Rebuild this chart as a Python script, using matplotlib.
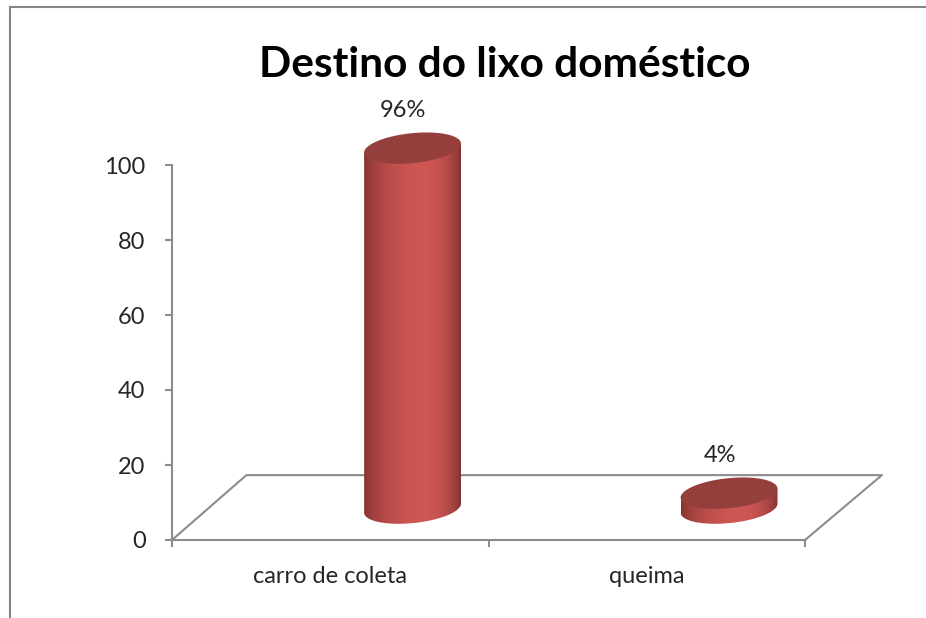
import numpy as np
import matplotlib
matplotlib.use("Agg")
import matplotlib.pyplot as plt
from matplotlib.path import Path
from matplotlib.patches import PathPatch, Polygon
from matplotlib.lines import Line2D

# ---- data ----
categories = ["carro de coleta", "queima"]
values = [96, 4]
value_labels = ["96%", "4%"]
title = "Destino do lixo doméstico"
yticks = [0, 20, 40, 60, 80, 100]

# ---- style ----
W, H = 926, 618
FONT = ["Lato", "DejaVu Sans"]
TXT = "#262626"
AXCOL = "#8c8c8c"
depth_dx, depth_dy = 0.235, 17.3      # floor depth in data units
cyl_dx, base = 0.26, 8.5              # cylinder offset into depth
r, b, shear = 0.153, 4.0, 1.2         # cylinder radius / ellipse half-height / tilt

fig = plt.figure(figsize=(W / 100, H / 100), dpi=100)
ax = fig.add_axes([172 / W, (H - 540) / H, 633 / W, 375 / H])
ax.set_xlim(-0.5, len(categories) - 0.5)
ax.set_ylim(0, 100)

for s in ["top", "right"]:
    ax.spines[s].set_visible(False)
for s in ["left", "bottom"]:
    ax.spines[s].set_color(AXCOL)
    ax.spines[s].set_linewidth(1.5)

ax.set_yticks(yticks)
ax.set_yticklabels([str(t) for t in yticks], fontsize=17, family=FONT, color=TXT)
ax.tick_params(axis="y", direction="out", length=5, width=1.5, color=AXCOL, pad=14)
ax.set_xticks(range(len(categories)))
ax.set_xticklabels(categories, fontsize=17, family=FONT, color=TXT)
ax.tick_params(axis="x", which="major", length=0, pad=19)
ax.set_xticks([i - 0.5 for i in range(len(categories) + 1)], minor=True)
ax.tick_params(axis="x", which="minor", direction="out", length=5, width=1.5, color=AXCOL)

# floor (3D base)
x0, x1 = -0.5, len(categories) - 0.5
floor_pts = [(x0, 0), (x0 + depth_dx, depth_dy), (x1 + depth_dx + 0.008, depth_dy), (x1, 0)]
ax.add_line(Line2D([p[0] for p in floor_pts], [p[1] for p in floor_pts],
                   color=AXCOL, lw=1.5, clip_on=False, zorder=1))

# cylinders
def shade(n=200):
    t = np.linspace(0, 1, n)
    dark_l = np.array([0.52, 0.20, 0.19])
    dark_r = np.array([0.48, 0.18, 0.17])
    light = np.array([0.81, 0.34, 0.33])
    out = np.zeros((1, n, 3))
    for i, v in enumerate(t):
        if v < 0.62:
            f = np.sin(v / 0.62 * np.pi / 2) ** 0.7
            c = dark_l + (light - dark_l) * f
        else:
            f = np.cos((v - 0.62) / 0.38 * np.pi / 2) ** 0.6
            c = dark_r + (light - dark_r) * f
        out[0, i] = c
    return out

grad = shade()
th = np.linspace(0, 2 * np.pi, 200)
for i, v in enumerate(values):
    xc = i + cyl_dx
    top = base + v
    tb = np.linspace(0, -np.pi, 100)
    bot_arc = [(xc + r * np.cos(a), base + shear * np.cos(a) + b * np.sin(a)) for a in tb]
    verts = [(xc - r, top - shear), (xc + r, top + shear)] + bot_arc + [(xc - r, top - shear)]
    pp = PathPatch(Path(verts, closed=True), fc="none", ec="none",
                   transform=ax.transData, clip_on=False)
    ax.add_patch(pp)
    im = ax.imshow(grad, extent=[xc - r, xc + r, base - b - 3, top + 3],
                   aspect="auto", zorder=3, interpolation="bilinear")
    im.set_clip_box(fig.bbox)
    im.set_clip_path(pp)
    # top ellipse
    ex = xc + r * np.cos(th)
    ey = top + shear * np.cos(th) + b * np.sin(th)
    ax.add_patch(Polygon(np.column_stack([ex, ey]), closed=True, fc="#953f3d",
                         ec="none", zorder=4, clip_on=False))
    ax.text(xc - 0.03, top + 8.4, value_labels[i], ha="center", va="baseline",
            fontsize=17, family=FONT, color=TXT, clip_on=False)

ax.set_xlim(-0.5, len(categories) - 0.5)
ax.set_ylim(0, 100)

fig.text(505 / W, 1 - 77 / H, title, ha="center", va="baseline",
         fontsize=30.5, fontweight="bold", family=FONT, color="black")

# outer frame (left and top edges visible)
FRAME = "#868686"
fig.add_artist(Line2D([10 / W, 10 / W], [0, 1 - 7 / H], color=FRAME, lw=1.5,
                      transform=fig.transFigure))
fig.add_artist(Line2D([10 / W, 1], [1 - 7 / H, 1 - 7 / H], color=FRAME, lw=1.5,
                      transform=fig.transFigure))

fig.savefig("out.png", dpi=100)
